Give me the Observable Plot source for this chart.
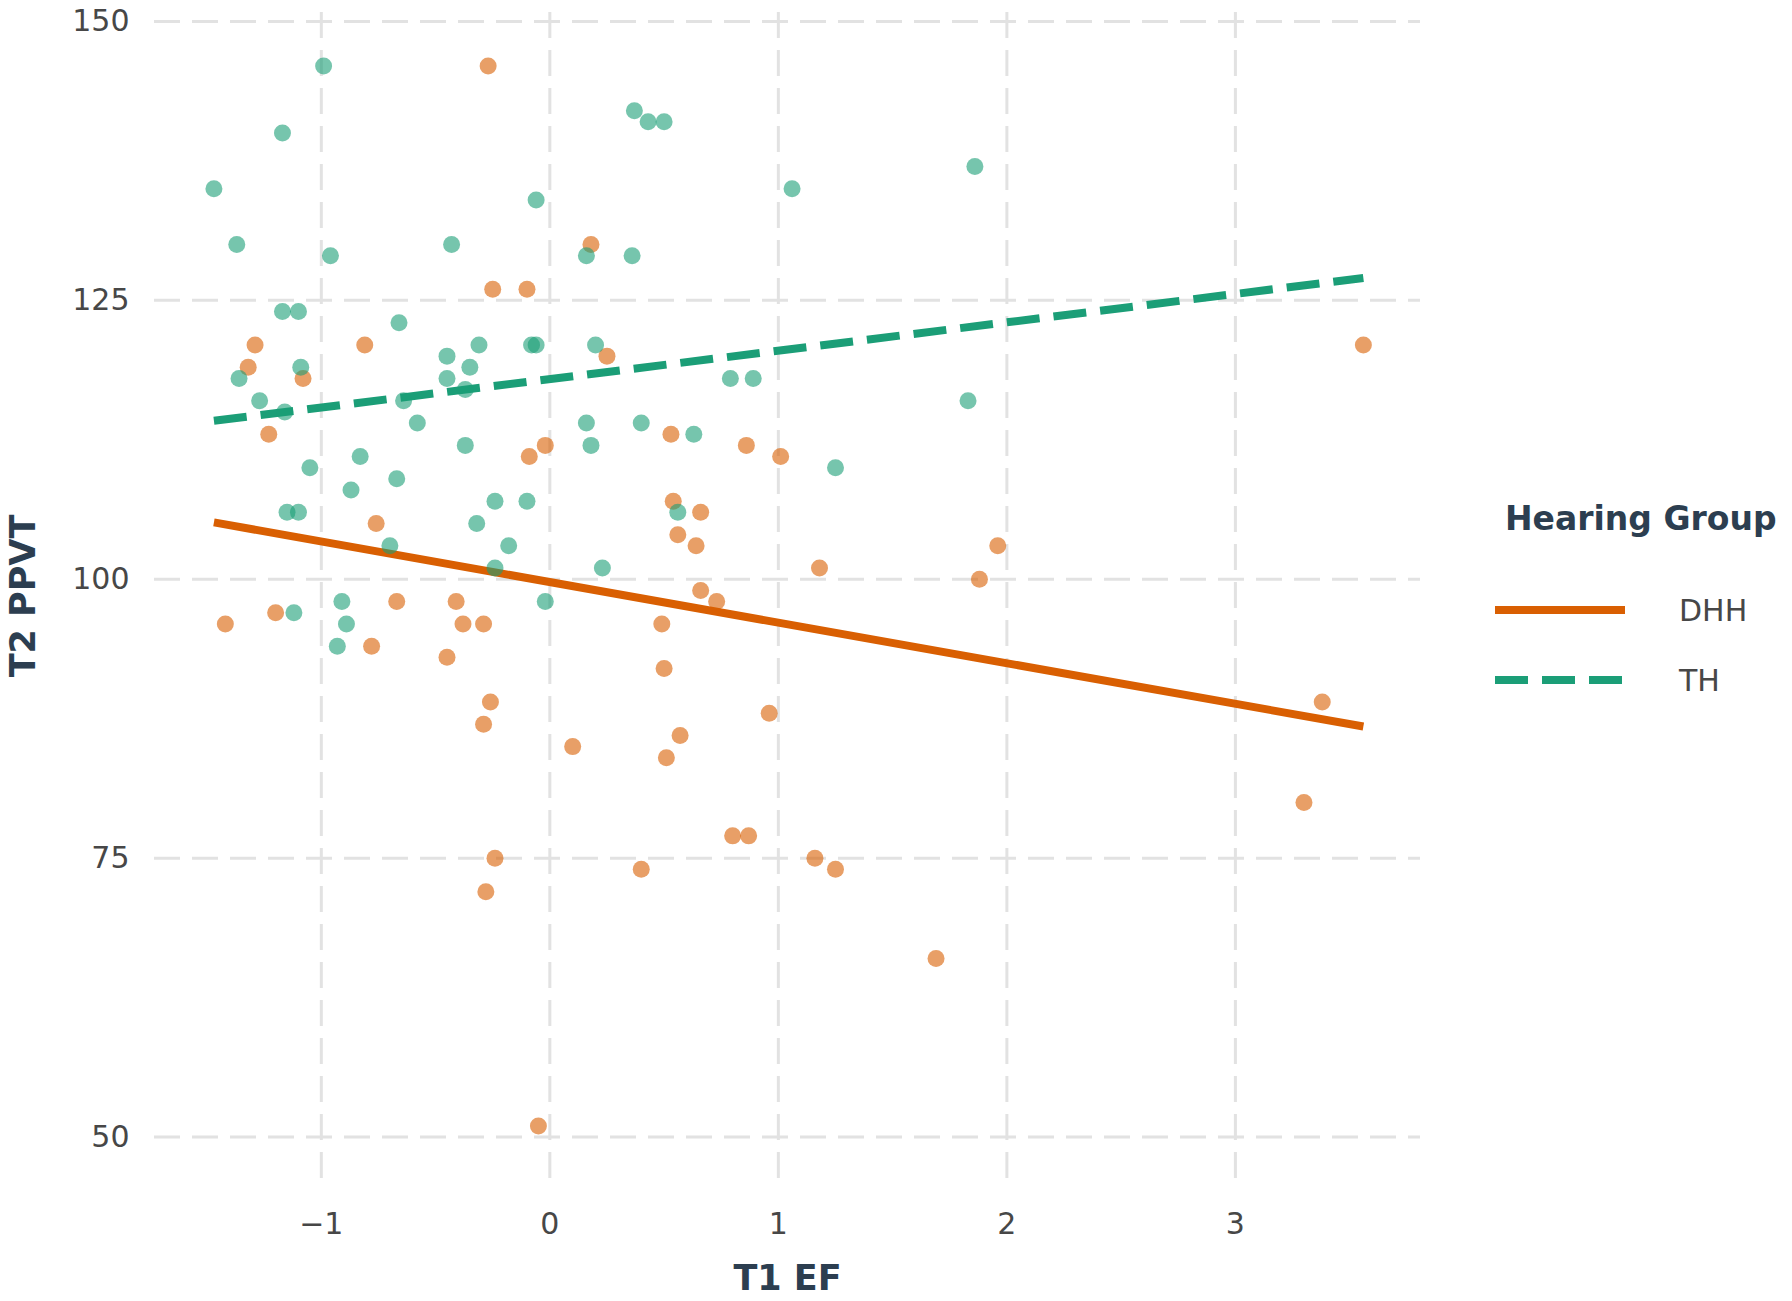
<!DOCTYPE html>
<html>
<head>
<meta charset="utf-8">
<script src="https://cdn.jsdelivr.net/npm/d3@7"></script>
<script src="https://cdn.jsdelivr.net/npm/@observablehq/plot@0.6"></script>
<style>
  body { margin: 0; background: #ffffff; }
  #wrap { position: relative; width: 1792px; height: 1301px; overflow: hidden; }
  #legend { position: absolute; left: 1480px; top: 480px; }
  g[aria-label="x-axis label"], g[aria-label="y-axis label"],
  g[aria-label="x-axis label"] text, g[aria-label="y-axis label"] text {
    font-weight: bold; font-size: 35px; fill: #2c3e50;
  }
</style>
</head>
<body>
<div id="wrap"><div id="chart"></div><div id="legend"></div></div>
<script>
// ---- data ----
const groups = ["DHH", "TH"];
const groupColors = ["#D95F02", "#1B9E77"];

const dhhX = [-0.27, 0.18, -0.25, -0.10, -1.29, -0.81, -1.32, -1.08, 0.25, -1.23,
  -0.09, -0.02, 0.53, 0.86, 1.01, 0.54, 0.66, 0.56, 0.64, 1.18,
  1.88, 1.96, 3.56, -0.76, 0.66, 0.73, -0.67, -0.41, -1.42, -1.20,
  -0.38, -0.29, 0.49, -0.78, -0.45, 0.50, -0.26, -0.29, 0.96, 0.57,
  0.10, 0.51, 3.38, 3.30, 0.80, 0.87, -0.24, 1.16, 0.40, 1.25,
  -0.28, 1.69, -0.05];
const dhhY = [146, 130, 126, 126, 121, 121, 119, 118, 120, 113,
  111, 112, 113, 112, 111, 107, 106, 104, 103, 101,
  100, 103, 121, 105, 99, 98, 98, 98, 96, 97,
  96, 96, 96, 94, 93, 92, 89, 87, 88, 86,
  85, 84, 89, 80, 77, 77, 75, 75, 74, 74,
  72, 66, 51];

const thX = [-1.47, -0.99, -1.17, -1.37, -0.96, -0.43, -0.06, 0.16, 0.36, 0.37,
  0.43, 0.50, 1.06, 1.86, -1.17, -1.10, -0.66, -1.36, -1.27, -1.16,
  -1.09, -1.05, -1.15, -1.10, -1.12, -0.91, -0.89, -0.93, -0.83, -0.87,
  -0.70, -0.67, -0.64, -0.58, -0.45, -0.45, -0.35, -0.37, -0.31, -0.37,
  -0.32, -0.24, -0.24, -0.18, -0.10, -0.08, -0.06, -0.02, 0.16, 0.18,
  0.20, 0.23, 0.40, 0.63, 0.56, 0.79, 0.89, 1.25, 1.83];
const thY = [135, 146, 140, 130, 129, 130, 134, 129, 129, 142,
  141, 141, 135, 137, 124, 124, 123, 118, 116, 115,
  119, 110, 106, 106, 97, 98, 96, 94, 111, 108,
  103, 109, 116, 114, 120, 118, 119, 117, 121, 112,
  105, 107, 101, 103, 107, 121, 121, 98, 114, 112,
  121, 101, 114, 113, 106, 118, 118, 110, 116];

// fitted regression lines (end points)
const fitX = [-1.47, 3.56];
const fitDHH = [105.1, 86.8];
const fitTH = [114.2, 127.0];

const xTicks = [-1, 0, 1, 2, 3];
const yTicks = [50, 75, 100, 125, 150];

// ---- tables built from the arrays ----
const points = [
  ...dhhX.map((x, i) => ({x, y: dhhY[i], group: "DHH"})),
  ...thX.map((x, i) => ({x, y: thY[i], group: "TH"}))
];
const lineDHH = fitX.map((x, i) => ({x, y: fitDHH[i], group: "DHH"}));
const lineTH = fitX.map((x, i) => ({x, y: fitTH[i], group: "TH"}));

const gridStyle = {stroke: "#e2e2e2", strokeOpacity: 1, strokeWidth: 3, strokeDasharray: "26,12"};
const intFormat = d3.format("d");

const chart = Plot.plot({
  width: 1792,
  height: 1301,
  marginLeft: 154,
  marginRight: 372,
  marginTop: 12,
  marginBottom: 122,
  style: {fontFamily: "'DejaVu Sans', sans-serif", fontSize: "30px", background: "#ffffff", color: "#474747"},
  x: {domain: [-1.73, 3.81], label: "T1 EF"},
  y: {domain: [46.2, 150.8], label: "T2 PPVT"},
  color: {domain: groups, range: groupColors},
  marks: [
    Plot.gridX(xTicks, gridStyle),
    Plot.gridY(yTicks, gridStyle),
    Plot.axisX(xTicks, {tickSize: 0, tickPadding: 33, fontSize: 30, tickFormat: intFormat, label: "T1 EF", labelAnchor: "center", labelOffset: 110, labelArrow: "none"}),
    Plot.axisY(yTicks, {tickSize: 0, tickPadding: 25, fontSize: 30, tickFormat: intFormat, label: "T2 PPVT", labelAnchor: "center", labelOffset: 144, labelArrow: "none"}),
    Plot.line(lineDHH, {x: "x", y: "y", stroke: "group", strokeWidth: 8, strokeLinecap: "butt"}),
    Plot.line(lineTH, {x: "x", y: "y", stroke: "group", strokeWidth: 8, strokeLinecap: "butt", strokeDasharray: "33,14"}),
    Plot.dot(points, {x: "x", y: "y", fill: "group", fillOpacity: 0.6, r: 8.5, stroke: "none"})
  ]
});
document.getElementById("chart").appendChild(chart);

// ---- legend (right side) ----
const legend = d3.select("#legend").append("svg")
  .attr("width", 312).attr("height", 240)
  .style("font-family", "'DejaVu Sans', sans-serif");
legend.append("text").attr("x", 25).attr("y", 50)
  .attr("font-size", 33).attr("font-weight", "bold").attr("fill", "#2c3e50")
  .text("Hearing Group");
groups.forEach((g, i) => {
  const cy = 130 + i * 70;
  legend.append("line").attr("x1", 15).attr("x2", 145).attr("y1", cy).attr("y2", cy)
    .attr("stroke", groupColors[i]).attr("stroke-width", 8)
    .attr("stroke-dasharray", i === 1 ? "33,14" : null);
  legend.append("text").attr("x", 199).attr("y", cy + 11)
    .attr("font-size", 30).attr("fill", "#474747").text(g);
});
</script>
</body>
</html>
